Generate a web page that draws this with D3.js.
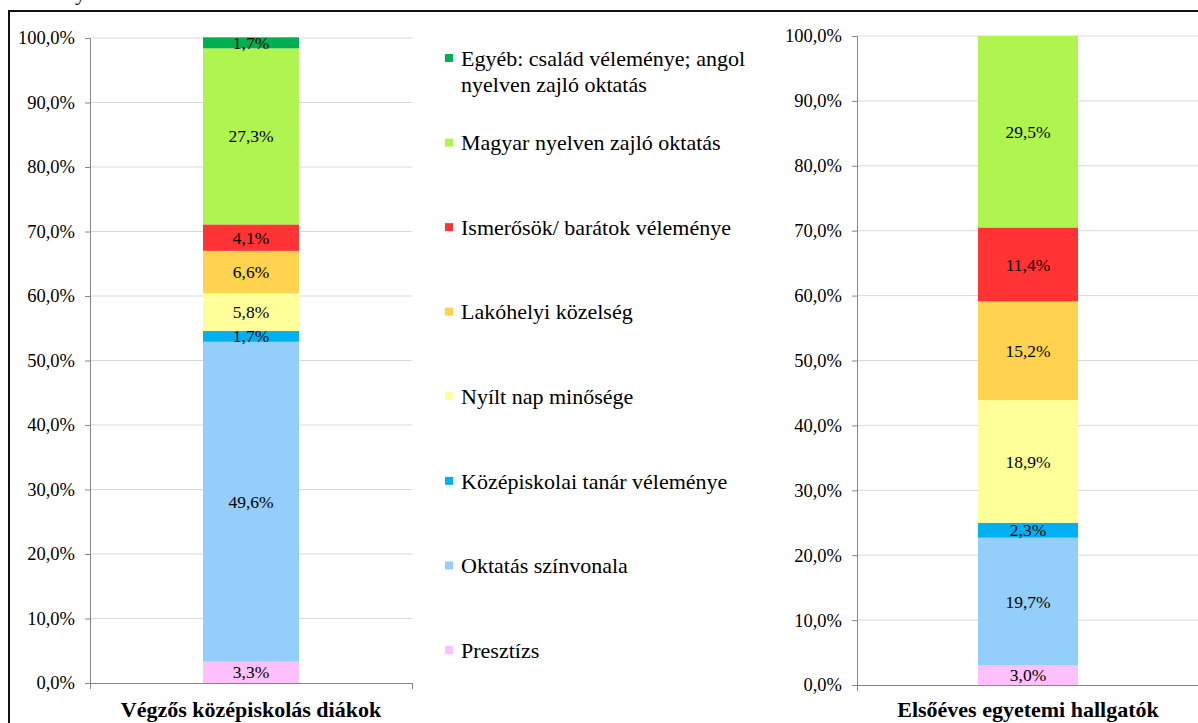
<!DOCTYPE html>
<html>
<head>
    <meta charset="UTF-8">
    <script src="https://d3js.org/d3.v7.min.js"></script>
    <style>
        body { margin: 0; background: white; }
        svg text { font-family: "Times New Roman", "Liberation Serif", Tinos, "DejaVu Serif", serif !important; fill: #000; }
        .grid line { stroke: #d9d9d9; stroke-width: 1px; }
        .axis path, .axis line { stroke: #868686; }
        .tick text { font-size: 18.5px; }
        .seglabel { font-size: 17.5px; }
        .legend text { font-size: 22px; }
        .catlabel { font-size: 22px; font-weight: bold; }
    </style>
</head>
<body>
    <svg id="chart" width="1198" height="723"></svg>
    <script>
        // series, bottom to top
        const seriesNames = [
            "Presztízs",
            "Oktatás színvonala",
            "Középiskolai tanár véleménye",
            "Nyílt nap minősége",
            "Lakóhelyi közelség",
            "Ismerősök/ barátok véleménye",
            "Magyar nyelven zajló oktatás",
            "Egyéb: család véleménye; angol nyelven zajló oktatás"
        ];
        const seriesColors = ["#ffc0fe", "#94cefa", "#00b0f0", "#ffff99", "#ffd24f", "#ff3333", "#b0f54f", "#00b050"];

        const categories = ["Végzős középiskolás diákok", "Elsőéves egyetemi hallgatók"];
        const valuesStudents = [3.3, 49.6, 1.7, 5.8, 6.6, 4.1, 27.3, 1.7];
        const valuesFreshmen = [3.0, 19.7, 2.3, 18.9, 15.2, 11.4, 29.5, 0];

        const tickValues = [0, 10, 20, 30, 40, 50, 60, 70, 80, 90, 100];

        const svg = d3.select("svg#chart");
        const fmt = v => d3.format(".1f")(v).replace(".", ",") + "%";

        // frame
        svg.append("line").attr("x1", 8).attr("x2", 1198).attr("y1", 11).attr("y2", 11)
            .attr("stroke", "#111").attr("stroke-width", 2);
        svg.append("line").attr("x1", 9).attr("x2", 9).attr("y1", 10).attr("y2", 723)
            .attr("stroke", "#111").attr("stroke-width", 2);
        // cut-off text above the frame
        svg.append("text").attr("x", 75).attr("y", 0).style("font-size", "22px").text("y");

        const panels = [
            {axisX: 90, endX: 412, y0: 683, y1: 38, bar: [203, 299], values: valuesStudents, cat: categories[0], catY: 717},
            {axisX: 857, endX: 1198, y0: 685, y1: 36, bar: [978, 1078], values: valuesFreshmen, cat: categories[1], catY: 717}
        ];

        panels.forEach(p => {
            const y = d3.scaleLinear().domain([0, 100]).range([p.y0, p.y1]);
            const g = svg.append("g");

            g.append("g").attr("class", "grid")
                .selectAll("line")
                .data(tickValues.slice(1))
                .join("line")
                .attr("x1", p.axisX).attr("x2", p.endX)
                .attr("y1", d => y(d)).attr("y2", d => y(d));

            const stack = d3.stack().keys(d3.range(seriesNames.length))([p.values]);
            const x = d3.scaleLinear().domain([0, 1]).range(p.bar);

            g.selectAll("rect.seg")
                .data(stack)
                .join("rect")
                .attr("class", "seg")
                .attr("x", x(0))
                .attr("width", x(1) - x(0))
                .attr("y", d => y(d[0][1]))
                .attr("height", d => y(d[0][0]) - y(d[0][1]))
                .attr("fill", (d, i) => seriesColors[i]);

            g.selectAll("text.seglabel")
                .data(stack.filter(d => d[0][1] - d[0][0] > 0))
                .join("text")
                .attr("class", "seglabel")
                .attr("x", (x(0) + x(1)) / 2)
                .attr("y", d => y((d[0][0] + d[0][1]) / 2))
                .attr("text-anchor", "middle")
                .attr("dy", "0.35em")
                .text(d => fmt(d[0][1] - d[0][0]));

            const yAxis = d3.axisLeft(y).tickValues(tickValues).tickFormat(fmt).tickSizeOuter(0).tickSize(5).tickPadding(10);
            g.append("g").attr("class", "axis")
                .attr("transform", `translate(${p.axisX},0)`)
                .call(yAxis);

            const xAxis = d3.axisBottom(d3.scaleLinear().domain([0, 1]).range([p.axisX, p.endX]))
                .tickValues([0, 1]).tickFormat("").tickSizeOuter(0).tickSize(6);
            g.append("g").attr("class", "axis")
                .attr("transform", `translate(0,${p.y0})`)
                .call(xAxis);

            g.append("text").attr("class", "catlabel")
                .attr("x", (x(0) + x(1)) / 2)
                .attr("y", p.catY)
                .attr("text-anchor", "middle")
                .text(p.cat);
        });

        // legend, top to bottom
        const legendY = d3.scalePoint().domain(d3.range(seriesNames.length).reverse()).range([58, 650]);
        const legend = svg.append("g").attr("class", "legend");
        const items = legend.selectAll("g")
            .data(d3.range(seriesNames.length))
            .join("g")
            .attr("transform", i => `translate(445,${legendY(i)})`);
        items.append("rect").attr("x", 0).attr("y", -4).attr("width", 8).attr("height", 8)
            .attr("fill", i => seriesColors[i]);
        items.append("text")
            .attr("x", 16)
            .attr("dy", "0.35em")
            .each(function (i) {
                const t = d3.select(this);
                if (i === 7) {
                    t.append("tspan").attr("x", 16).text("Egyéb: család véleménye; angol");
                    t.append("tspan").attr("x", 16).attr("dy", "26").text("nyelven zajló oktatás");
                } else {
                    t.text(seriesNames[i]);
                }
            });
    </script>
</body>
</html>
